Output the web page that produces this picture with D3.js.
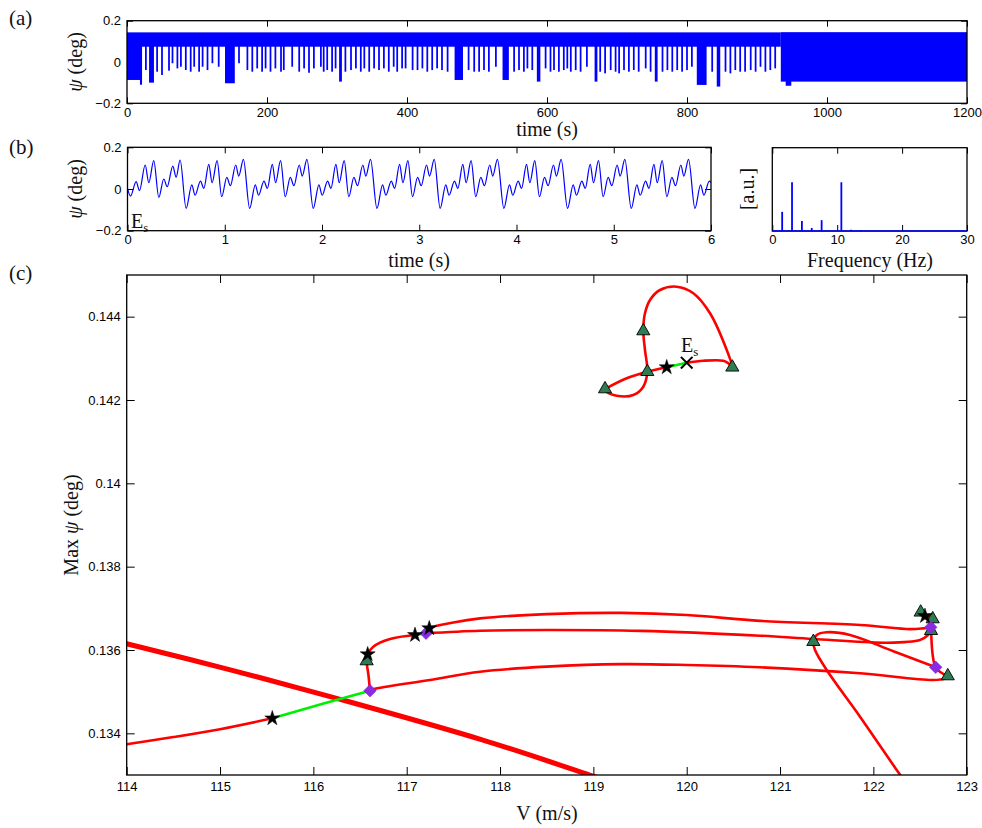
<!DOCTYPE html>
<html>
<head>
<meta charset="utf-8">
<script src="https://cdn.jsdelivr.net/npm/d3@7"></script>
<style>
body { margin: 0; background: #fff; }
.tick text { font-family: "Liberation Sans", Arial, sans-serif; font-size: 13px; fill: #000; }
.tick line { stroke: #000; stroke-width: 1; }
.lbl { font-family: "Liberation Serif", "Times New Roman", serif; font-size: 20px; fill: #111; }
</style>
</head>
<body>
<script>
// ---------- panel (a): long time series, drawn as band + dips ----------
var aBandStart = [0, 934];
var aBandEnd = [934, 1200];
var aBandLow = [0.074, -0.095];
var aBandHigh = [0.1435, 0.1445];

var dipTime = [10, 20, 27, 35, 43, 50, 60, 65, 72, 77, 84, 91, 96, 103, 108, 115, 122, 131, 147, 160,
    172, 179, 186, 193, 198, 205, 212, 220, 224, 236, 246, 253, 260, 267, 277, 281, 286, 293, 298, 305,
    312, 320, 327, 334, 339, 346, 353, 360, 367, 374, 381, 386, 393, 398, 408, 415, 422, 429, 436, 443,
    450, 458, 474, 488, 496, 503, 510, 517, 527, 541, 553, 560, 567, 572, 579, 588, 598, 605, 610, 617,
    624, 629, 634, 641, 648, 657, 670, 676, 683, 691, 698, 703, 710, 717, 724, 731, 741, 748, 756, 765,
    772, 779, 786, 793, 800, 807, 821, 836, 845, 855, 862, 869, 876, 883, 891, 898, 905, 912, 919, 926, 945];
var dipMin = [-0.087, -0.11, -0.039, -0.10, -0.047, -0.063, -0.042, -0.006, -0.031, -0.023, -0.039, -0.047, -0.023, -0.047, -0.023, -0.039, -0.006, -0.023, -0.103, -0.006,
    -0.039, -0.047, -0.031, -0.047, -0.031, -0.047, -0.031, -0.047, -0.039, -0.023, -0.047, -0.031, -0.052, -0.031, -0.023, -0.047, -0.039, -0.047, -0.031, -0.095,
    -0.047, -0.039, -0.031, -0.047, -0.031, -0.047, -0.031, -0.039, -0.031, -0.047, -0.023, -0.047, -0.031, -0.031, -0.039, -0.039, -0.031, -0.047, -0.039, -0.031,
    -0.039, -0.047, -0.087, -0.039, -0.047, -0.047, -0.039, -0.047, -0.023, -0.087, -0.047, -0.039, -0.047, -0.031, -0.039, -0.095, -0.031, -0.047, -0.039, -0.047,
    -0.039, -0.031, -0.047, -0.039, -0.047, -0.023, -0.095, -0.047, -0.055, -0.039, -0.047, -0.055, -0.039, -0.047, -0.039, -0.047, -0.031, -0.047, -0.095, -0.047,
    -0.039, -0.047, -0.039, -0.047, -0.039, -0.023, -0.111, -0.047, -0.119, -0.047, -0.055, -0.039, -0.047, -0.047, -0.039, -0.047, -0.023, -0.047, -0.039, -0.031, -0.115];
var dipWidth = [20, 3, 2.5, 7, 2.5, 2.5, 2.5, 2.5, 2.5, 2.5, 2.5, 2.5, 2.5, 2.5, 2.5, 2.5, 2.5, 2.5, 14, 2.5,
    2.5, 2.5, 2.5, 2.5, 2.5, 2.5, 2.5, 2.5, 2.5, 2.5, 2.5, 2.5, 2.5, 2.5, 2.5, 2.5, 2.5, 2.5, 2.5, 4,
    2.5, 2.5, 2.5, 2.5, 2.5, 2.5, 2.5, 2.5, 2.5, 2.5, 2.5, 2.5, 2.5, 2.5, 2.5, 2.5, 2.5, 2.5, 2.5, 2.5,
    2.5, 2.5, 12, 2.5, 2.5, 2.5, 2.5, 2.5, 2.5, 9, 2.5, 2.5, 2.5, 2.5, 2.5, 5, 2.5, 2.5, 2.5, 2.5,
    2.5, 2.5, 2.5, 2.5, 2.5, 2.5, 4, 2.5, 2.5, 2.5, 2.5, 2.5, 2.5, 2.5, 2.5, 2.5, 2.5, 2.5, 4, 2.5,
    2.5, 2.5, 2.5, 2.5, 2.5, 2.5, 14, 2.5, 5, 2.5, 2.5, 2.5, 2.5, 2.5, 2.5, 2.5, 2.5, 2.5, 2.5, 2.5, 8];

var bTime = [0, 0.031, 0.089, 0.123, 0.182, 0.219, 0.270, 0.322, 0.373, 0.408, 0.466, 0.500, 0.541,
    0.603, 0.661, 0.695, 0.750, 0.785, 0.836, 0.870, 0.921, 0.969, 1.021, 1.058, 1.113, 1.144, 1.192,
    1.256, 1.314, 1.348, 1.403, 1.438, 1.489, 1.523, 1.574, 1.622, 1.674, 1.711, 1.766, 1.797, 1.845,
    1.910, 1.968, 2.002, 2.057, 2.092, 2.143, 2.177, 2.228, 2.276, 2.328, 2.365, 2.420, 2.451, 2.499,
    2.565, 2.623, 2.657, 2.712, 2.747, 2.798, 2.832, 2.883, 2.931, 2.983, 3.020, 3.075, 3.106, 3.154,
    3.215, 3.273, 3.307, 3.362, 3.397, 3.448, 3.482, 3.533, 3.581, 3.633, 3.670, 3.725, 3.756, 3.804,
    3.870, 3.928, 3.962, 4.017, 4.052, 4.103, 4.137, 4.188, 4.236, 4.288, 4.325, 4.380, 4.411, 4.459,
    4.525, 4.583, 4.617, 4.672, 4.707, 4.758, 4.792, 4.843, 4.891, 4.943, 4.980, 5.035, 5.066, 5.114,
    5.180, 5.238, 5.272, 5.327, 5.362, 5.413, 5.447, 5.498, 5.546, 5.598, 5.635, 5.690, 5.721, 5.769,
    5.835, 5.893, 5.927, 5.982, 6.0];
var bPsi = [0.003, -0.034, 0.035, -0.008, 0.115, 0.030, 0.136, -0.040, 0.048, 0.011, 0.110, 0.056, 0.139,
    -0.093, 0.020, -0.030, 0.038, 0.003, 0.118, 0.030, 0.136, -0.037, 0.056, 0.016, 0.115, 0.062, 0.142,
    -0.093, 0.020, -0.030, 0.038, 0.003, 0.118, 0.030, 0.136, -0.037, 0.056, 0.016, 0.115, 0.062, 0.142,
    -0.093, 0.020, -0.030, 0.038, 0.003, 0.118, 0.030, 0.136, -0.037, 0.056, 0.016, 0.115, 0.062, 0.142,
    -0.093, 0.020, -0.030, 0.038, 0.003, 0.118, 0.030, 0.136, -0.037, 0.056, 0.016, 0.115, 0.062, 0.142,
    -0.093, 0.020, -0.030, 0.038, 0.003, 0.118, 0.030, 0.136, -0.037, 0.056, 0.016, 0.115, 0.062, 0.142,
    -0.093, 0.020, -0.030, 0.038, 0.003, 0.118, 0.030, 0.136, -0.037, 0.056, 0.016, 0.115, 0.062, 0.142,
    -0.093, 0.020, -0.030, 0.038, 0.003, 0.118, 0.030, 0.136, -0.037, 0.056, 0.016, 0.115, 0.062, 0.142,
    -0.093, 0.020, -0.030, 0.038, 0.003, 0.118, 0.030, 0.136, -0.037, 0.056, 0.016, 0.115, 0.062, 0.142,
    -0.093, 0.020, -0.030, 0.038, 0.030];

// spectrum
var specFreq = [1.52, 3.04, 4.56, 6.08, 7.6, 10.64, 12.16, 13.68];
var specAmp = [0.23, 0.585, 0.12, 0.036, 0.13, 0.585, 0.015, 0.01];

// ---------- panel (c): branches, V (m/s) and max psi (deg) ----------
var thickV = [114, 115.1, 116.25, 117.8, 118.96, 119.2];
var thickPsi = [0.13615, 0.13553, 0.13484, 0.13385, 0.13300, 0.13282];

var lowV = [114, 114.5, 115.0, 115.56];
var lowPsi = [0.13374, 0.13391, 0.13410, 0.13436];

var green1V = [115.56, 116.1, 116.607];
var green1Psi = [0.13436, 0.13471, 0.135023];

var hookV = [116.607, 116.59, 116.571, 116.582, 116.642, 116.821, 117.089];
var hookPsi = [0.135023, 0.1354, 0.135736, 0.135897, 0.136079, 0.136264, 0.13636];

var green2V = [117.089, 117.207];
var green2Psi = [0.13636, 0.136401];

var midV = [117.207, 117.786, 118.5, 119.5, 120.786, 121.354, 122.143, 122.5, 122.586, 122.618];
var midPsi = [0.136401, 0.136463, 0.13648, 0.13646, 0.136343, 0.136264, 0.136175, 0.13624, 0.13636, 0.136463];

var upV = [117.207, 117.242, 117.5, 117.786, 118.5, 119.3, 120.0, 120.786, 121.857, 122.393, 122.535, 122.615];
var upPsi = [0.136401, 0.136521, 0.13666, 0.13676, 0.13686, 0.13689, 0.13684, 0.13670, 0.13660, 0.13650, 0.13652, 0.136545];

var botV = [116.607, 116.642, 117.25, 117.786, 118.5, 119.3, 120.0, 120.786, 121.857, 122.643, 122.768, 122.797];
var botPsi = [0.135023, 0.135057, 0.13528, 0.135479, 0.1356, 0.13566, 0.13564, 0.135585, 0.135441, 0.13528, 0.13532, 0.135376];

var clusterV = [122.507, 122.553, 122.60, 122.615, 122.618, 122.668, 122.797];
var clusterPsi = [0.136905, 0.136816, 0.13665, 0.136545, 0.136463, 0.135585, 0.135376];

var spurV = [122.553, 122.636, 122.615];
var spurPsi = [0.136816, 0.136744, 0.136545];

var loopV = [122.668, 122.214, 121.75, 121.5, 121.393, 121.357, 121.375, 121.5, 121.857, 122.25, 122.32];
var loopPsi = [0.135585, 0.13597, 0.13636, 0.136425, 0.13636, 0.1362, 0.136, 0.13552, 0.1344, 0.13312, 0.1329];

var isoAV = [119.125, 119.357, 119.578, 119.786];
var isoAPsi = [0.142264, 0.142521, 0.142679, 0.142785];
var isoGreenV = [119.786, 120.0];
var isoGreenPsi = [0.142785, 0.142895];
var isoBV = [120.0, 120.178, 120.392, 120.446, 120.489, 120.429, 120.25, 120.071, 119.893, 119.714, 119.607,
    119.553, 119.535, 119.553, 119.578, 119.535, 119.428, 119.25, 119.143, 119.125];
var isoBPsi = [0.142895, 0.142943, 0.142943, 0.142881, 0.142785, 0.1432, 0.144081, 0.144561, 0.144719, 0.14464, 0.1444,
    0.144081, 0.143656, 0.1432, 0.142679, 0.142319, 0.14212, 0.142103, 0.142199, 0.142264];

// markers
var triV = [119.125, 119.578, 119.535, 120.489, 116.571, 121.357, 122.507, 122.636, 122.618, 122.797];
var triPsi = [0.142264, 0.142679, 0.143656, 0.142785, 0.135736, 0.1362, 0.136905, 0.136744, 0.136463, 0.135376];
var starV = [115.56, 116.582, 117.089, 117.242, 119.786, 122.553];
var starPsi = [0.13436, 0.135897, 0.13636, 0.136521, 0.142785, 0.136816];
var diaV = [116.607, 117.207, 122.615, 122.668];
var diaPsi = [0.135023, 0.136401, 0.136545, 0.135585];
var crossV = [120.0];
var crossPsi = [0.142895];

var aXTicks = [0, 200, 400, 600, 800, 1000, 1200];
var abYTicks = [-0.2, 0, 0.2];
var bXTicks = [0, 1, 2, 3, 4, 5, 6];
var fXTicks = [0, 10, 20, 30];
var cXTicks = [114, 115, 116, 117, 118, 119, 120, 121, 122, 123];
var cYTicks = [0.134, 0.136, 0.138, 0.14, 0.142, 0.144];

// ---------------------------------------------------------------------
var svg = d3.select("body").append("svg")
    .attr("width", 982)
    .attr("height", 828);

var defs = svg.append("defs");
var clipCount = 0;

function fmtInt(d) { return String(d); }
function fmtAB(d) { return d === 0 ? "0" : d3.format(".1f")(d); }
function fmtC(d) { return String(+d.toFixed(3)); }

// boxed axes with inward ticks on all four sides (matlab look)
function boxAxes(x, y, xTicks, yTicks, yFmt, tick, xPad) {
    var g = svg.append("g");
    var x0 = x.range()[0], x1 = x.range()[1];
    var y0 = y.range()[0], y1 = y.range()[1];

    g.append("g").attr("transform", "translate(0," + y0 + ")")
        .call(d3.axisBottom(x).tickValues(xTicks).tickSize(-tick).tickPadding(xPad).tickFormat(fmtInt));
    g.append("g").attr("transform", "translate(0," + y1 + ")")
        .call(d3.axisTop(x).tickValues(xTicks).tickSize(-tick).tickFormat(""));
    if (yTicks.length) {
        g.append("g").attr("transform", "translate(" + x0 + ",0)")
            .call(d3.axisLeft(y).tickValues(yTicks).tickSize(-tick).tickPadding(6).tickFormat(yFmt));
        g.append("g").attr("transform", "translate(" + x1 + ",0)")
            .call(d3.axisRight(y).tickValues(yTicks).tickSize(-tick).tickFormat(""));
    }
    g.selectAll(".domain").remove();

    var id = "clip" + (clipCount++);
    defs.append("clipPath").attr("id", id)
        .append("rect")
        .attr("x", x0).attr("y", y1)
        .attr("width", x1 - x0).attr("height", y0 - y1);
    var plot = svg.append("g").attr("clip-path", "url(#" + id + ")");

    // frame on top, drawn later
    return { plot: plot, frame: function() {
        svg.append("rect")
            .attr("x", x0).attr("y", y1)
            .attr("width", x1 - x0).attr("height", y0 - y1)
            .attr("fill", "none").attr("stroke", "#000").attr("stroke-width", 1.3);
    } };
}

function addText(x, y, parts, opts) {
    var t = svg.append("text").attr("class", "lbl")
        .attr("x", x).attr("y", y)
        .attr("text-anchor", opts && opts.anchor ? opts.anchor : "middle");
    if (opts && opts.rotate) t.attr("transform", "rotate(-90," + x + "," + y + ")");
    if (opts && opts.size) t.style("font-size", opts.size);
    parts.forEach(function(p) {
        var s = t.append("tspan").text(p.t);
        if (p.italic) s.attr("font-style", "italic");
        if (p.size) s.attr("font-size", p.size);
        if (p.dy) s.attr("dy", p.dy);
    });
    return t;
}

// ---------- (a) ----------
var xA = d3.scaleLinear().domain([0, 1200]).range([127, 967]);
var yA = d3.scaleLinear().domain([-0.2, 0.2]).range([103.3, 20.7]);
var axA = boxAxes(xA, yA, aXTicks, abYTicks, fmtAB, 6, 4);

axA.plot.selectAll(".band")
    .data(d3.range(aBandStart.length))
    .enter().append("rect")
    .attr("x", function(i) { return xA(aBandStart[i]); })
    .attr("width", function(i) { return xA(aBandEnd[i]) - xA(aBandStart[i]); })
    .attr("y", function(i) { return yA(aBandHigh[i]); })
    .attr("height", function(i) { return yA(aBandLow[i]) - yA(aBandHigh[i]); })
    .attr("fill", "#0000ff");

axA.plot.selectAll(".dip")
    .data(d3.range(dipTime.length))
    .enter().append("rect")
    .attr("x", function(i) { return xA(dipTime[i] - dipWidth[i] / 2); })
    .attr("width", function(i) { return Math.max(1.6, xA(dipWidth[i]) - xA(0)); })
    .attr("y", yA(0.14))
    .attr("height", function(i) { return yA(dipMin[i]) - yA(0.14); })
    .attr("fill", "#0000ff");
axA.frame();

// ---------- (b) time series ----------
var xB = d3.scaleLinear().domain([0, 6]).range([127.5, 711]);
var yB = d3.scaleLinear().domain([-0.2, 0.2]).range([230.7, 147.3]);
var axB = boxAxes(xB, yB, bXTicks, abYTicks, fmtAB, 6, 4);

axB.plot.append("path")
    .datum(d3.zip(bTime, bPsi))
    .attr("d", d3.line()
        .x(function(d) { return xB(d[0]); })
        .y(function(d) { return yB(d[1]); })
        .curve(d3.curveMonotoneX))
    .attr("fill", "none")
    .attr("stroke", "#0000ff")
    .attr("stroke-width", 1.2);
axB.frame();

// ---------- (b) spectrum ----------
var xF = d3.scaleLinear().domain([0, 30]).range([772.3, 967]);
var yF = d3.scaleLinear().domain([0, 1]).range([231, 147.7]);
var axF = boxAxes(xF, yF, fXTicks, [], null, 6, 4);
axF.frame();

svg.append("line")
    .attr("x1", xF(0)).attr("x2", xF(30))
    .attr("y1", yF(0)).attr("y2", yF(0))
    .attr("stroke", "#0000ff").attr("stroke-width", 1.6);
svg.selectAll(".stem")
    .data(d3.zip(specFreq, specAmp))
    .enter().append("line")
    .attr("x1", function(d) { return xF(d[0]); })
    .attr("x2", function(d) { return xF(d[0]); })
    .attr("y1", yF(0))
    .attr("y2", function(d) { return yF(d[1]); })
    .attr("stroke", "#0000ff")
    .attr("stroke-width", 1.8);

// ---------- (c) bifurcation diagram ----------
var xC = d3.scaleLinear().domain([114, 123]).range([126.7, 966.7]);
var yC = d3.scaleLinear().domain([0.133, 0.145]).range([775, 275]);
var axC = boxAxes(xC, yC, cXTicks, cYTicks, fmtC, 8, 7);

var lineC = d3.line()
    .x(function(d) { return xC(d[0]); })
    .y(function(d) { return yC(d[1]); })
    .curve(d3.curveCatmullRom.alpha(0.5));

function branch(V, P, color, width) {
    axC.plot.append("path")
        .datum(d3.zip(V, P))
        .attr("d", lineC)
        .attr("fill", "none")
        .attr("stroke", color)
        .attr("stroke-width", width)
        .attr("stroke-linejoin", "round")
        .attr("stroke-linecap", "round");
}

branch(thickV, thickPsi, "#ff0000", 5);
branch(lowV, lowPsi, "#ff0000", 2.6);
branch(hookV, hookPsi, "#ff0000", 2.6);
branch(midV, midPsi, "#ff0000", 2.6);
branch(upV, upPsi, "#ff0000", 2.6);
branch(botV, botPsi, "#ff0000", 2.6);
branch(clusterV, clusterPsi, "#ff0000", 2.6);
branch(spurV, spurPsi, "#ff0000", 2.6);
branch(loopV, loopPsi, "#ff0000", 2.6);
branch(isoAV, isoAPsi, "#ff0000", 2.6);
branch(isoBV, isoBPsi, "#ff0000", 2.6);
branch(green1V, green1Psi, "#00ee00", 2.6);
branch(green2V, green2Psi, "#00ee00", 2.6);
branch(isoGreenV, isoGreenPsi, "#00ee00", 2.6);

function markers(V, P, type, size, fill, stroke, sw) {
    axC.plot.selectAll(null)
        .data(d3.zip(V, P))
        .enter().append("path")
        .attr("d", d3.symbol().type(type).size(size))
        .attr("transform", function(d) { return "translate(" + xC(d[0]) + "," + yC(d[1]) + ")"; })
        .attr("fill", fill)
        .attr("stroke", stroke)
        .attr("stroke-width", sw);
}
markers(triV, triPsi, d3.symbolTriangle, 75, "#2e7d52", "#000", 0.9);
markers(diaV, diaPsi, d3.symbolDiamond2, 100, "#8a2be2", "#7a22d8", 0.6);
markers(starV, starPsi, d3.symbolStar, 70, "#000", "#000", 0.5);
markers(crossV, crossPsi, d3.symbolX, 90, "none", "#000", 2);
axC.frame();

// ---------- labels ----------
addText(9, 25, [{ t: "(a)" }], { anchor: "start", size: "21px" });
addText(9, 154, [{ t: "(b)" }], { anchor: "start", size: "21px" });
addText(9, 280, [{ t: "(c)" }], { anchor: "start", size: "21px" });

addText(82, 62, [{ t: "ψ", italic: true }, { t: " (deg)" }], { rotate: true });
addText(82, 189, [{ t: "ψ", italic: true }, { t: " (deg)" }], { rotate: true });
addText(547, 136, [{ t: "time (s)" }]);
addText(419, 267, [{ t: "time (s)" }]);
addText(870, 267, [{ t: "Frequency (Hz)" }]);
addText(754, 189, [{ t: "[a.u.]" }], { rotate: true });
addText(78, 525, [{ t: "Max " }, { t: "ψ", italic: true }, { t: " (deg)" }], { rotate: true });
addText(547, 820, [{ t: "V (m/s)" }]);

addText(131, 228, [{ t: "E" }, { t: "s", size: "13px", dy: "4" }], { anchor: "start" });
addText(681, 352, [{ t: "E" }, { t: "s", size: "13px", dy: "4" }], { anchor: "start" });
</script>
</body>
</html>
